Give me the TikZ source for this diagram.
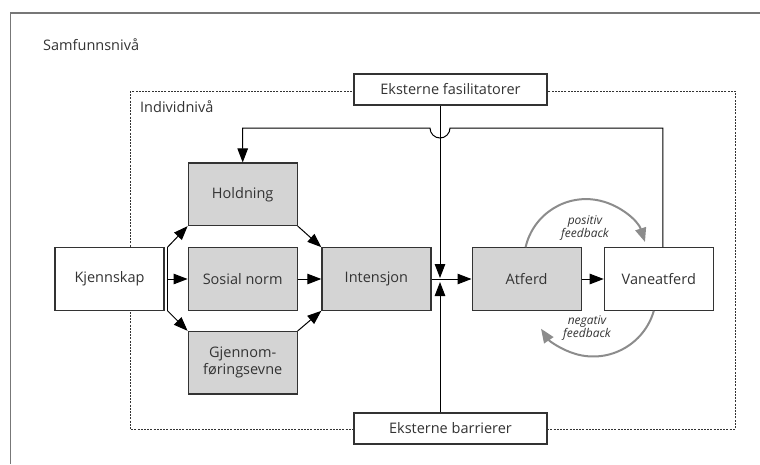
\documentclass[tikz,border=0pt]{standalone}
\usepackage{fontspec}
\setmainfont{Open Sans}
\usetikzlibrary{positioning,arrows.meta}
\definecolor{boxgrey}{HTML}{D4D4D4}
\definecolor{textgrey}{HTML}{333333}
\definecolor{fbgrey}{HTML}{8C8C8C}
\definecolor{framegrey}{HTML}{777777}

\begin{document}
\begin{tikzpicture}[x=1pt,y=-1pt,
		my box/.style={draw=textgrey, line width=1.2pt, fill=white, text=textgrey,
			font=\fontsize{14.5}{17}\selectfont, minimum width=109pt,
			minimum height=62.5pt, inner sep=0pt, align=center},
		my grey box/.style={my box, fill=boxgrey},
		my wide box/.style={my box, minimum width=193pt, minimum height=31pt},
		my level/.style={text=textgrey, font=\fontsize{14.5}{17}\selectfont,
			inner sep=0pt, anchor=base west},
		my arrow/.style={draw=black, line width=1pt, -{Triangle[length=14pt,width=10.5pt]}},
		my feedback/.style={draw=fbgrey, line width=2pt,
			-{Triangle[length=14pt,width=11pt]}},
		my fb text/.style={text=textgrey, font=\fontsize{12}{12.5}\selectfont\itshape,
			align=center, inner sep=0pt},
	]
	\useasboundingbox (0,0) rectangle (760,464);
	% levels
	\draw[framegrey, line width=1.5pt] (10.5,464) -- (10.5,13) -- (760,13);
	\node[my level] (samf) at (43,50) {Samfunnsnivå};
	\draw[textgrey, line width=0.9pt, dash pattern=on 2pt off 1.2pt]
		(130,91) rectangle (735,429);
	\node[my level] (indiv) at (140,112) {Individnivå};
	%
	\node[my box] (kjenn) at (109.5,279) {Kjennskap};
	\node[my grey box, right=23pt of kjenn] (sosial) {Sosial norm};
	\node[my grey box, above=21pt of sosial] (hold) {Holdning};
	\node[my grey box, below=20pt of sosial] (gjenn) {Gjennom-\\føringsevne};
	\node[my grey box, right=23.5pt of sosial] (intens) {Intensjon};
	\node[my grey box, right=40pt of intens] (atferd) {Atferd};
	\node[my box, right=22pt of atferd] (vane) {Vaneatferd};
	\node[my wide box] (fasil) at (450.5,89.5) {Eksterne fasilitatorer};
	\node[my wide box] (barr) at (450.5,428.5) {Eksterne barrierer};
	\coordinate (jn) at (440,280);
	\coordinate (fb) at (440,128);
	%
	\draw[line width=1pt] ([xshift=3pt]kjenn.north east) -- ([xshift=3pt]kjenn.south east);
	\draw[my arrow] ([xshift=3pt]kjenn.north east) -- (hold.south west);
	\draw[my arrow] ([xshift=3pt]kjenn.east) -- (sosial.west);
	\draw[my arrow] ([xshift=3pt]kjenn.south east) -- (gjenn.north west);
	\draw[my arrow] (hold.south east) -- (intens.north west);
	\draw[my arrow] (sosial) -- (intens);
	\draw[my arrow] (gjenn.north east) -- (intens.south west);
	\draw[my arrow] (intens) -- (atferd);
	\draw[my arrow] (atferd) -- (vane);
	\draw[my arrow] (fasil.south -| jn) -- ([yshift=2pt]jn);
	\draw[my arrow] (barr.north -| jn) -- ([yshift=-2pt]jn);
	\draw[my arrow] ([xshift=4pt]vane.north) |- ([xshift=10pt]fb)
		arc[start angle=0, end angle=-180, radius=10pt] -- (fb -| hold.north) -- (hold.north);
	%
	\draw[my feedback] ([xshift=-1pt]atferd.north)
		arc[start angle=167, end angle=18, radius=62pt];
	\draw[my feedback] ([xshift=-5pt]vane.south)
		arc[start angle=-16, end angle=-146, radius=63pt];
	\node[my fb text] (pos) at (585,228) {positiv\\feedback};
	\node[my fb text] (neg) at (587,328) {negativ\\feedback};
\end{tikzpicture}
\end{document}
